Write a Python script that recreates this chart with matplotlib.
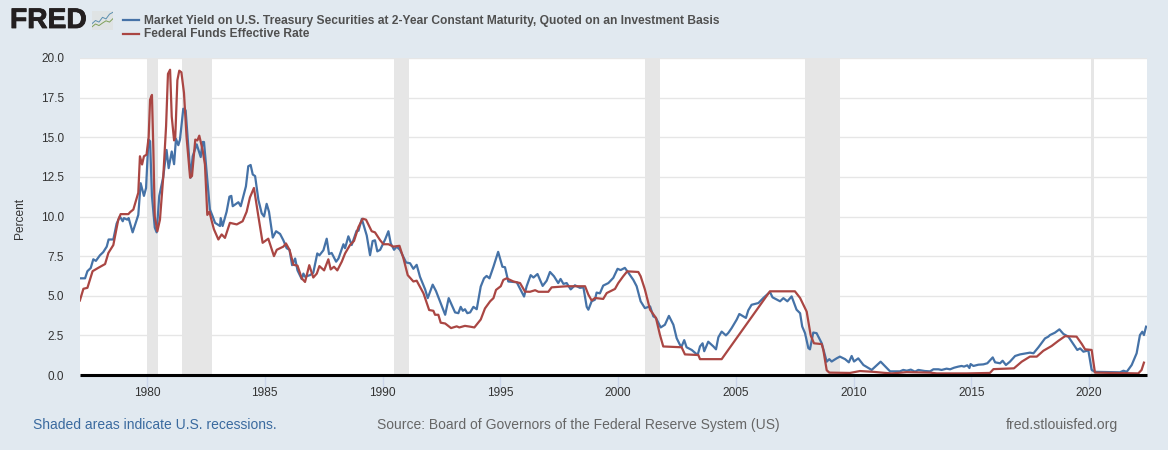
import matplotlib
matplotlib.use("Agg")
import matplotlib.pyplot as plt
import matplotlib.patheffects as pe

W, H = 1168, 450
BG = "#e1e9f0"
BLUE = "#4572a7"
RED = "#aa4643"
plt.rcParams["font.family"] = ["Liberation Sans", "DejaVu Sans"]

series_names = ["Market Yield on U.S. Treasury Securities at 2-Year Constant Maturity, Quoted on an Investment Basis",
                "Federal Funds Effective Rate"]
y_ticks = [0, 2.5, 5, 7.5, 10, 12.5, 15, 17.5, 20]
x_ticks = [1980, 1985, 1990, 1995, 2000, 2005, 2010, 2015, 2020]
recessions = [(1980.0, 1980.47), (1981.5, 1982.78), (1990.49, 1991.12), (2001.15, 2001.8),
              (2007.92, 2009.42), (2020.07, 2020.22)]

gs2_year = [1977.15,1977.37,1977.47,1977.61,1977.72,1977.83,1978.00,1978.14,1978.29,1978.37,1978.57,1978.71,1978.85,
 1978.97,1979.02,1979.16,1979.22,1979.39,1979.63,1979.73,1979.87,1979.96,1980.06,1980.13,1980.21,1980.33,1980.41,
 1980.52,1980.69,1980.83,1980.92,1981.05,1981.15,1981.23,1981.33,1981.40,1981.54,1981.64,1981.85,1981.94,1982.11,
 1982.28,1982.36,1982.42,1982.67,1982.79,1982.89,1983.10,1983.13,1983.21,1983.38,1983.50,1983.58,1983.64,1983.88,
 1983.98,1984.20,1984.30,1984.40,1984.49,1984.59,1984.73,1984.87,1984.97,1985.08,1985.18,1985.34,1985.48,1985.65,
 1985.79,1985.93,1986.05,1986.16,1986.29,1986.39,1986.57,1986.64,1986.71,1986.92,1987.06,1987.23,1987.32,1987.49,
 1987.63,1987.73,1987.84,1988.03,1988.13,1988.34,1988.41,1988.55,1988.69,1988.90,1988.98,1989.12,1989.33,1989.47,
 1989.58,1989.68,1989.78,1989.90,1990.11,1990.25,1990.35,1990.49,1990.60,1990.74,1991.00,1991.17,1991.31,1991.45,
 1991.59,1991.81,1991.92,1992.13,1992.27,1992.66,1992.81,1993.08,1993.22,1993.32,1993.41,1993.50,1993.60,1993.72,
 1993.86,1994.00,1994.17,1994.31,1994.42,1994.54,1994.71,1994.91,1995.09,1995.20,1995.34,1995.70,1996.01,1996.12,
 1996.29,1996.41,1996.58,1996.80,1996.97,1997.11,1997.28,1997.46,1997.56,1997.68,1997.82,1997.99,1998.17,1998.38,
 1998.53,1998.67,1998.74,1998.88,1999.02,1999.09,1999.23,1999.37,1999.59,1999.80,1999.98,2000.11,2000.29,2000.44,
 2000.65,2000.79,2000.96,2001.14,2001.36,2001.50,2001.61,2001.81,2001.99,2002.16,2002.35,2002.49,2002.63,2002.70,
 2002.81,2002.91,2003.13,2003.38,2003.48,2003.59,2003.66,2003.83,2004.05,2004.16,2004.26,2004.40,2004.58,2004.68,
 2004.82,2005.04,2005.15,2005.32,2005.43,2005.53,2005.67,2005.96,2006.17,2006.45,2006.56,2006.88,2007.02,2007.19,
 2007.37,2007.58,2007.73,2007.82,2007.94,2008.08,2008.15,2008.29,2008.43,2008.65,2008.86,2008.97,2009.07,2009.28,
 2009.42,2009.64,2009.80,2009.92,2010.02,2010.20,2010.42,2010.77,2011.15,
 2011.55,2011.97,2012.11,2012.26,2012.43,2012.61,2012.75,2013.03,2013.25,2013.39,2013.60,2013.74,2013.95,2014.10,
 2014.27,2014.45,2014.59,2014.69,2014.83,2014.92,2014.97,2015.09,2015.30,2015.51,2015.68,2015.91,2016.01,2016.22,
 2016.33,2016.47,2016.64,2016.86,2017.07,2017.35,2017.49,2017.64,2017.85,2018.13,2018.27,2018.34,2018.55,2018.74,
 2018.91,2019.12,2019.33,2019.50,2019.62,2019.76,2019.97,2020.11,2020.25,2021.31,2021.46,2021.60,2021.81,2022.02,
 2022.16,2022.26,2022.33,2022.42]
gs2_value = [6.1,6.1,6.55,6.75,7.3,7.2,7.55,7.75,8.1,8.55,8.55,9.55,10.0,9.7,9.9,9.8,9.9,9.0,10.1,12.1,11.3,11.8,14.85,
 14.75,11.3,9.3,9.0,11.3,12.5,14.2,13.05,14.1,13.3,14.9,14.5,14.85,16.8,16.7,12.45,13.8,14.55,13.75,14.7,14.7,10.45,
 10.0,9.6,9.4,9.9,9.4,10.3,11.25,11.3,10.65,10.9,10.65,11.9,13.17,13.25,12.65,12.55,11.05,10.2,10.0,10.8,10.3,8.67,
 9.07,8.9,8.5,8.0,7.9,6.93,7.35,6.6,6.05,6.4,6.2,6.3,6.45,7.67,7.55,7.87,8.6,7.63,7.7,7.15,7.35,8.25,8.0,8.75,8.2,
 9.1,9.1,9.85,8.8,7.56,8.45,8.5,7.8,7.9,8.55,9.07,8.3,7.9,8.1,7.9,7.1,7.05,6.7,6.95,6.2,5.4,4.85,5.7,5.3,3.8,4.85,
 3.95,3.9,4.3,4.05,4.15,3.9,3.95,4.3,4.15,5.58,6.1,6.25,6.1,6.83,7.77,6.83,6.8,5.9,5.85,4.95,5.6,6.3,6.15,6.37,5.62,
 5.95,6.5,6.23,5.8,6.06,5.75,5.8,5.4,5.66,5.5,5.53,4.3,4.12,4.65,4.75,5.2,5.15,5.64,5.8,6.13,6.7,6.62,6.76,6.45,6.0,
 5.6,4.65,4.22,4.33,3.7,3.6,3.0,3.17,3.73,3.17,2.32,1.9,1.8,2.2,1.75,1.58,1.26,1.8,2.0,1.5,2.1,1.8,1.62,2.38,2.74,
 2.5,2.65,2.95,3.5,3.85,3.7,3.6,4.08,4.43,4.54,4.86,5.24,4.9,4.65,4.85,4.65,4.96,4.12,3.9,3.06,2.64,1.7,1.62,2.68,
 2.64,2.0,0.84,1.0,0.85,1.05,1.16,1.0,0.8,1.2,0.85,1.05,0.63,0.32,0.84,
 0.23,0.23,0.32,0.27,0.34,0.21,0.32,0.25,0.23,0.36,0.36,0.32,0.40,0.36,0.46,0.53,0.57,0.53,0.61,0.44,0.69,0.57,0.65,
 0.67,0.74,1.11,0.80,0.74,0.90,0.63,0.84,1.20,1.30,1.37,1.41,1.37,1.75,2.31,2.42,2.52,2.67,2.88,2.59,2.42,1.96,1.58,
 1.68,1.47,1.55,0.32,0.20,0.17,0.27,0.20,0.63,1.37,2.52,2.73,2.52,3.05]

ff_year = [1977.15,1977.30,1977.47,1977.69,1977.93,1978.22,1978.36,1978.57,1978.78,1978.88,1979.21,1979.28,1979.42,
 1979.63,1979.70,1979.79,1979.87,1979.98,1980.07,1980.13,1980.21,1980.27,1980.33,1980.44,1980.55,1980.69,1980.81,
 1980.89,1980.98,1981.05,1981.15,1981.20,1981.29,1981.37,1981.46,1981.57,1981.68,1981.83,1981.91,1982.05,1982.14,
 1982.22,1982.36,1982.46,1982.56,1982.65,1982.75,1982.84,1983.03,1983.17,1983.31,1983.52,1983.81,1984.06,1984.23,
 1984.37,1984.54,1984.73,1984.91,1985.15,1985.39,1985.51,1985.79,1985.90,1986.05,1986.22,1986.39,1986.57,1986.71,
 1986.89,1987.06,1987.21,1987.32,1987.52,1987.70,1987.80,1987.94,1988.08,1988.27,1988.41,1988.62,1988.79,1988.98,
 1989.16,1989.30,1989.54,1989.68,1989.90,1990.04,1990.25,1990.46,1990.72,1990.89,1991.07,1991.31,1991.45,1991.74,
 1991.98,1992.16,1992.23,1992.37,1992.47,1992.66,1992.91,1993.15,1993.26,1993.50,1993.72,1993.90,1994.17,1994.35,
 1994.57,1994.71,1994.82,1995.02,1995.13,1995.27,1995.56,1995.84,1996.05,1996.26,1996.48,1996.62,1997.04,1997.18,
 1997.54,1997.82,1998.60,1998.74,1998.88,1999.02,1999.37,1999.52,1999.87,2000.01,2000.22,2000.39,2000.86,2000.96,
 2001.14,2001.36,2001.61,2001.78,2001.92,2002.70,2002.84,2003.41,2003.48,2004.40,2005.60,2006.45,2007.51,2007.73,
 2008.01,2008.18,2008.32,2008.65,2008.72,2008.86,2008.97,2009.85,2010.27,2010.84,2011.27,2011.62,2012.26,2013.25,
 2013.53,2014.80,2015.79,2015.94,2016.81,2017.14,2017.49,2017.78,2018.06,2018.41,2018.70,2018.98,2019.47,2019.69,
 2019.83,2020.11,2020.25,2022.09,2022.23,2022.33]
ff_value = [4.7,5.44,5.5,6.55,6.76,7.0,7.7,8.2,9.8,10.15,10.15,10.27,10.44,11.5,13.8,13.28,13.8,13.9,15.0,17.37,17.67,
 14.2,10.0,9.07,9.8,12.5,15.7,19.0,19.26,16.3,14.8,15.0,18.6,19.2,19.1,17.8,15.0,12.45,12.55,14.85,14.8,15.1,14.2,
 13.28,10.1,10.3,9.7,9.2,8.55,8.87,8.65,9.6,9.5,9.7,10.3,11.2,11.8,10.0,8.34,8.6,7.5,7.9,8.1,8.3,7.9,6.95,6.9,6.1,
 5.87,6.93,6.15,6.4,6.87,6.6,7.3,6.66,6.83,6.6,7.15,7.67,8.2,8.46,9.34,9.86,9.8,9.07,9.0,8.5,8.25,8.25,8.1,8.15,
 7.35,6.3,5.9,5.95,5.15,4.1,4.05,3.8,3.8,3.3,3.25,2.96,3.07,3.0,3.1,3.05,3.0,3.5,4.2,4.65,4.85,5.37,5.6,6.0,6.1,
 5.9,5.8,5.26,5.25,5.35,5.25,5.25,5.53,5.57,5.6,5.6,5.07,4.7,4.86,4.8,5.17,5.43,5.8,6.23,6.54,6.5,6.23,5.4,4.12,
 3.6,2.53,1.8,1.75,1.3,1.26,1.0,1.0,3.5,5.28,5.28,4.86,4.0,2.5,2.0,1.95,1.55,0.3,0.15,0.13,0.25,0.2,0.14,0.1,0.18,
 0.15,0.1,0.1,0.13,0.37,0.42,0.84,1.16,1.16,1.53,1.83,2.16,2.45,2.42,1.96,1.62,1.58,0.15,0.1,0.32,0.78]

fig = plt.figure(figsize=(W / 100, H / 100), dpi=100, facecolor=BG)
L, R, T, B = 80, 1147, 58, 375
ax = fig.add_axes([L / W, 1 - B / H, (R - L) / W, (B - T) / H], facecolor="white")
ax.set_xlim(1977.155, 2022.46)
ax.set_ylim(0, 20)
for a, b in recessions:
    ax.axvspan(a, b, color="#e6e6e6", lw=0, zorder=1)
ax.set_yticks(y_ticks)
ax.set_yticklabels([f"{v:.1f}" for v in y_ticks], fontsize=8.5, color="#333333")
ax.set_xticks(x_ticks)
ax.set_xticklabels([str(v) for v in x_ticks], fontsize=8.6, color="#333333")
ax.grid(axis="y", color="#e6e6e6", lw=1, zorder=0)
ax.tick_params(axis="y", length=0, pad=11.4)
ax.tick_params(axis="x", length=9, width=1, color="#ccd6eb", pad=0)
for s in ["top", "left", "right"]:
    ax.spines[s].set_visible(False)
ax.spines["bottom"].set_color("black")
ax.spines["bottom"].set_linewidth(2.2)
ax.spines["bottom"].set_capstyle("butt")
ax.spines["bottom"].set_zorder(5)
line_kw = dict(lw=1.6, solid_joinstyle="round", clip_on=True)
ax.plot(gs2_year, gs2_value, color=BLUE, zorder=3, **line_kw)
ax.plot(ff_year, ff_value, color=RED, zorder=4, **line_kw)
fig.text(20 / W, 1 - 218 / H, "Percent", rotation=90, ha="center", va="center", fontsize=8.6, color="#333333")


def put(x, y, s, **kw):
    fig.text(x / W, 1 - y / H, s, va="center", **kw)


logo = put(10, 21, "FRED", fontsize=20.3, fontweight="bold", color="#231f20")
fig.texts[-1].set_path_effects([pe.withStroke(linewidth=0.6, foreground="#231f20")])
for i, (name, col) in enumerate(zip(series_names, [BLUE, RED])):
    y = 20 + 13.5 * i
    fig.add_artist(plt.Line2D([123 / W, 139 / W], [1 - y / H, 1 - y / H], color=col, lw=1.6))
    put(144, y + 0.7, name, fontsize=8.62, fontweight="bold", color="#505050")

# FRED logo icon
icon = fig.add_axes([92 / W, 1 - 30 / H, 21 / W, 19 / H], facecolor="#dfe3e4")
icon.set_xticks([]); icon.set_yticks([])
for s in icon.spines.values():
    s.set_visible(False)
icon.set_xlim(0, 6); icon.set_ylim(0, 6)
icon.plot([0, 1, 2, 3, 4, 5, 6], [2, 3, 2.5, 4, 3.5, 5, 5.6], color="#5b8fb0", lw=0.7)
icon.plot([0, 1, 2, 3, 4, 5, 6], [1, 1.9, 1.4, 2.2, 2.9, 2.5, 3.6], color="#7fa05a", lw=0.7)

foot = 425
put(33, foot, "Shaded areas indicate U.S. recessions.", fontsize=10.03, color="#3a6a9f")
put(377, foot, "Source: Board of Governors of the Federal Reserve System (US)", fontsize=10.03, color="#666666")
put(1006, foot, "fred.stlouisfed.org", fontsize=10.05, color="#666666")

fig.savefig("out.png", dpi=100, facecolor=BG)
